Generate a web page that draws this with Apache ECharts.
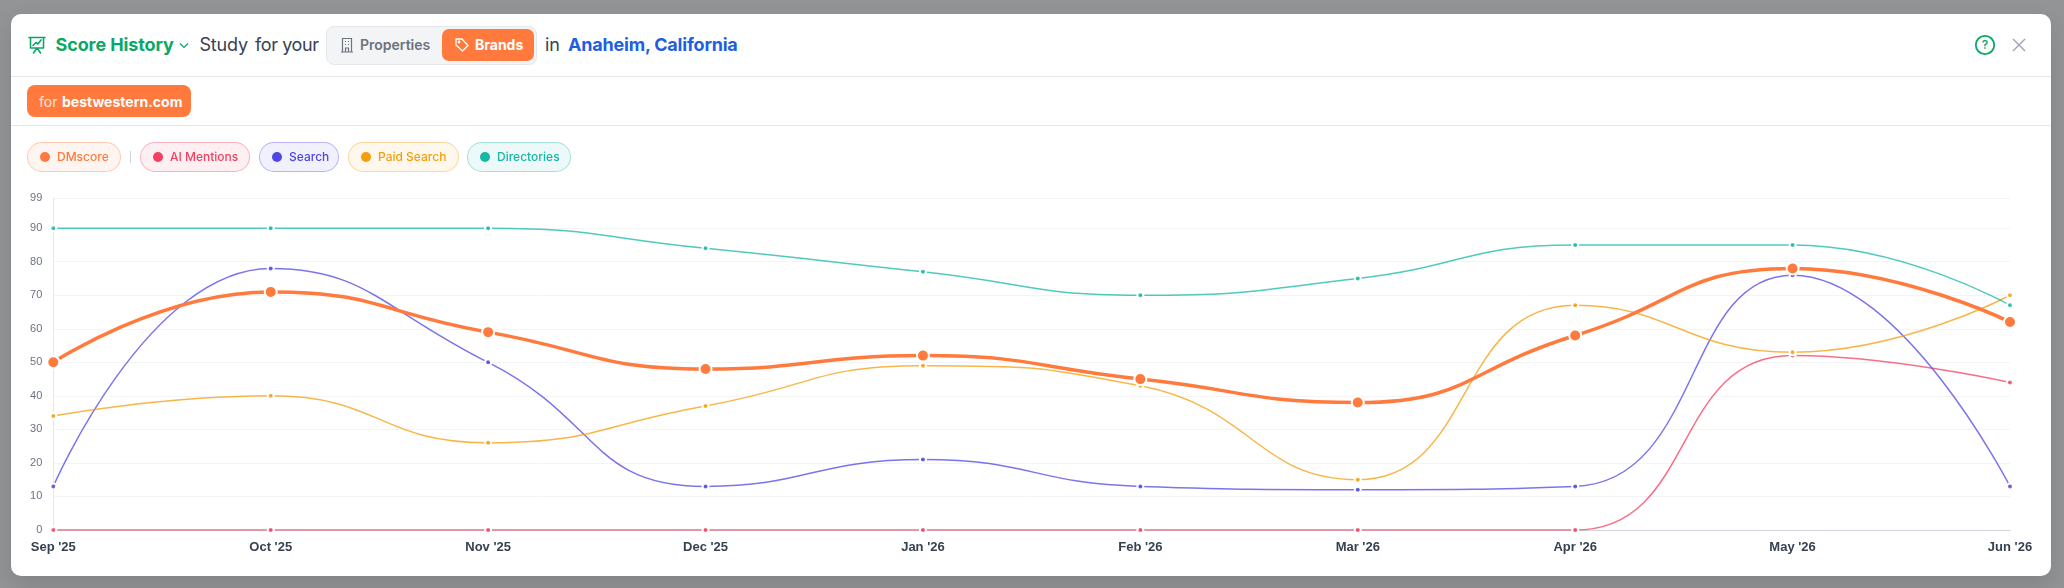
<!DOCTYPE html>
<html><head><meta charset="utf-8">
<script src="https://cdn.jsdelivr.net/npm/echarts@6/dist/echarts.min.js"></script>
<style>
html,body{margin:0;padding:0;width:2064px;height:588px;overflow:hidden;background:#939495;font-family:Inter,sans-serif}
#card{position:absolute;left:11px;top:14px;width:2040px;height:562px;background:#fff;border-radius:10px;box-shadow:0 10px 25px rgba(0,0,0,.12)}
#chart{position:absolute;left:0;top:0;width:2064px;height:588px}
.a{position:absolute;white-space:nowrap;line-height:1}
.hr{position:absolute;left:11px;width:2040px;height:1px;background:#e5e7eb}
.chip{position:absolute;top:142px;height:28px;border-radius:15px;border:1px solid;box-sizing:content-box;font-size:12px;font-weight:500;line-height:28px}
.chip i{position:absolute;left:12px;top:9px;width:10px;height:10px;border-radius:50%}
.chip span{position:absolute;left:29px;top:0;white-space:nowrap}
svg{position:absolute}
</style></head><body>
<div id="card"></div>
<div class="hr" style="top:76px"></div>
<div class="hr" style="top:125px"></div>

<svg style="left:28px;top:36px" width="18" height="18" viewBox="0 0 18 18" fill="none" stroke="#0aa866" stroke-width="1.6" stroke-linejoin="round" stroke-linecap="round"><path d="M1 1.500h16M2.500 1.500v10.500h13V1.500M5 9.500l3-3 2 1.500 3-4M9 12l-3.500 5M9 12l3.500 5"/></svg>
<div class="a" style="left:55.500px;top:36px;font-size:18px;font-weight:700;letter-spacing:-.1px;color:#0aa866">Score History</div>
<svg style="left:178px;top:41px" width="12" height="10" viewBox="0 0 12 10" fill="none" stroke="#0aa866" stroke-width="1.2"><path d="M2 2.500l4 4 4-4"/></svg>
<div class="a" style="left:199.500px;top:36px;font-size:18px;font-weight:400;letter-spacing:-.2px;color:#374151">Study</div>
<div class="a" style="left:255px;top:36px;font-size:18px;font-weight:400;letter-spacing:-.4px;color:#374151">for your</div>

<div class="a" style="left:325.500px;top:26px;width:209px;height:37px;background:#f3f4f6;border:1px solid #e5e7eb;border-radius:8px"></div>
<svg style="left:340px;top:37px" width="14" height="16" viewBox="0 0 14 16" fill="none" stroke="#6b7280" stroke-width="1.200"><path d="M2.500 15V1.500h9V15M1 15h12M5 4.500h1M8 4.500h1M5 7.500h1M8 7.500h1M5.500 15v-4h3v4"/></svg>
<div class="a" style="left:360px;top:38px;font-size:14px;font-weight:600;color:#6b7280">Properties</div>
<div class="a" style="left:442px;top:29px;width:92px;height:32px;background:#ff7a3c;border-radius:7px"></div>
<svg style="left:454px;top:37px" width="16" height="16" viewBox="0 0 16 16" fill="none" stroke="#fff" stroke-width="1.300" stroke-linejoin="round"><path d="M2 2h6l6 6.500-5.500 5.500L2 8z"/><circle cx="5" cy="5" r=".8"/></svg>
<div class="a" style="left:475px;top:38px;font-size:14px;font-weight:700;color:#fff">Brands</div>
<div class="a" style="left:545px;top:36px;font-size:18px;color:#374151">in</div>
<div class="a" style="left:568px;top:36px;font-size:18px;font-weight:700;letter-spacing:-.2px;color:#1d5fe0">Anaheim, California</div>

<svg style="left:1974px;top:34px" width="22" height="22" viewBox="0 0 22 22" fill="none"><circle cx="11" cy="11" r="9.200" stroke="#0aa866" stroke-width="1.800"/><text x="11" y="15" font-family="Inter" font-size="12" font-weight="600" text-anchor="middle" fill="#0aa866" stroke="none">?</text></svg>
<svg style="left:2012px;top:38px" width="14" height="14" viewBox="0 0 14 14" stroke="#9ca3af" stroke-width="1.400"><path d="M1 1l12 12M13 1L1 13"/></svg>

<div class="a" style="left:27px;top:85px;width:164px;height:32px;background:#ff7a3c;border-radius:8px"></div>
<div class="a" style="left:39px;top:94.500px;font-size:14px;color:#ffe6d9">for</div>
<div class="a" style="left:62px;top:94.500px;font-size:14px;font-weight:700;color:#fff">bestwestern.com</div>

<div id="chart"></div>
<div id="chips"></div>
<div class="a" style="left:130px;top:151px;width:1px;height:12px;background:#d1d5db"></div>

<script>
const months = ["Sep '25","Oct '25","Nov '25","Dec '25","Jan '26","Feb '26","Mar '26","Apr '26","May '26","Jun '26"];
const dmscore = [50,71,59,48,52,45,38,58,78,62];
const aiMentions = [0,0,0,0,0,0,0,0,52,44];
const search = [13,78,50,13,21,13,12,13,76,13];
const paidSearch = [34,40,26,37,49,43,15,67,53,70];
const directories = [90,90,90,84,77,70,75,85,85,67];

const chipDefs = [
  ['DMscore','#ff7a3c',27,94],
  ['AI Mentions','#f43f5e',140,110],
  ['Search','#4f46e5',259,80],
  ['Paid Search','#f59e0b',348,111],
  ['Directories','#14b8a6',467,104]
];
const hex2 = (c,a)=>{const n=parseInt(c.slice(1),16);return `rgba(${n>>16},${(n>>8)&255},${n&255},${a})`};
document.getElementById('chips').innerHTML = chipDefs.map(([t,c,x,w])=>
 `<div class="chip" style="left:${x}px;width:${w-2}px;background:${hex2(c,.08)};border-color:${hex2(c,.35)};color:${c}"><i style="background:${c}"></i><span>${t}</span></div>`).join('');

function line(name,data,color,main){
  return {name,type:'line',data,smooth:true,smoothConstraint:false,showSymbol:true,symbol:'circle',
    symbolSize:main?12:6,z:main?5:3,
    lineStyle:{color,width:main?3.5:1.5,opacity:main?1:.75},
    itemStyle:{color:main?color:hex2(color,.8),borderColor:'#fff',borderWidth:2}};
}
const chart = echarts.init(document.getElementById('chart'),null,{renderer:'canvas'});
chart.setOption({
  animation:false,
  grid:{left:53.3,right:54,top:198,bottom:58,containLabel:false},
  xAxis:{type:'category',data:months,boundaryGap:false,
    axisLine:{lineStyle:{color:'#d1d5db',width:1}},axisTick:{show:false},
    axisLabel:{interval:0,color:'#374151',fontFamily:'Liberation Sans',fontSize:13,fontWeight:'bold',margin:11,
      showMinLabel:true,showMaxLabel:true,hideOverlap:false},
    splitLine:{show:false}},
  yAxis:{type:'value',min:0,max:99,interval:10,
    axisLine:{show:true,lineStyle:{color:'#e5e7eb'}},axisTick:{show:false},
    axisLabel:{color:'#6b7280',fontFamily:'Liberation Sans',fontSize:11,margin:11,showMaxLabel:true},
    splitLine:{lineStyle:{color:'#f3f4f6',width:1}}},
  series:[
    line('AI Mentions',aiMentions,'#f43f5e'),
    line('Search',search,'#4f46e5'),
    line('Paid Search',paidSearch,'#f59e0b'),
    line('Directories',directories,'#14b8a6'),
    line('DMscore',dmscore,'#ff7a3c',true)
  ]
});
</script>
</body></html>
